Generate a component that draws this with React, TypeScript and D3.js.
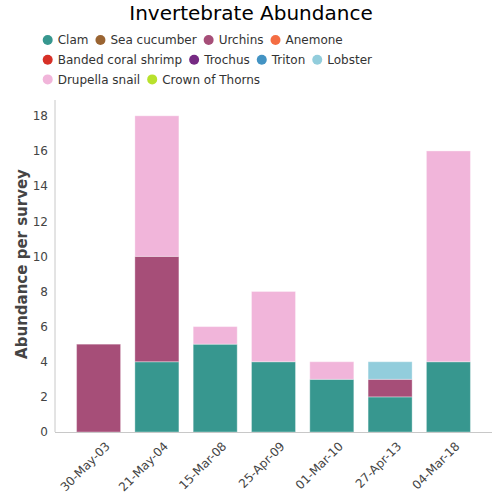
import React from "react";
import * as d3 from "d3";

const categories = ["30-May-03", "21-May-04", "15-Mar-08", "25-Apr-09", "01-Mar-10", "27-Apr-13", "04-Mar-18"];
const speciesNames = ["Clam", "Sea cucumber", "Urchins", "Anemone", "Banded coral shrimp", "Trochus", "Triton", "Lobster", "Drupella snail", "Crown of Thorns"];
const speciesColors = ["#37978f", "#9a6432", "#a64e78", "#f46d43", "#d73027", "#762a83", "#4393c3", "#92cddc", "#f1b5da", "#b8e12c"];
const clam = [0, 4, 5, 4, 3, 2, 4];
const seaCucumber = [0, 0, 0, 0, 0, 0, 0];
const urchins = [5, 6, 0, 0, 0, 1, 0];
const anemone = [0, 0, 0, 0, 0, 0, 0];
const bandedShrimp = [0, 0, 0, 0, 0, 0, 0];
const trochus = [0, 0, 0, 0, 0, 0, 0];
const triton = [0, 0, 0, 0, 0, 0, 0];
const lobster = [0, 0, 0, 0, 0, 1, 0];
const drupella = [0, 8, 1, 4, 1, 0, 12];
const crownOfThorns = [0, 0, 0, 0, 0, 0, 0];
const yTicks = [0, 2, 4, 6, 8, 10, 12, 14, 16, 18];

const seriesValues = [clam, seaCucumber, urchins, anemone, bandedShrimp, trochus, triton, lobster, drupella, crownOfThorns];

const FONT = "DejaVu Sans, sans-serif";

function measure(text: string, size: number) {
  const c = document.createElement("canvas").getContext("2d");
  if (!c) return text.length * size * 0.6;
  c.font = `${size}px "DejaVu Sans"`;
  return c.measureText(text).width;
}

export default function App() {
  const left = 55, right = 492, top = 100, bottom = 432;
  const x = d3.scaleBand<string>().domain(categories).range([left, right]).paddingInner(0.245).paddingOuter(0.37);
  const y = d3.scaleLinear().domain([0, 18.9]).range([bottom, top]);

  const rows = categories.map((c, i) => {
    const r: any = { cat: c };
    speciesNames.forEach((s, k) => (r[s] = seriesValues[k][i]));
    return r;
  });
  const stack = d3.stack<any>().keys(speciesNames)(rows);
  const color = d3.scaleOrdinal<string, string>().domain(speciesNames).range(speciesColors);

  // legend layout
  const legendItems: { name: string; cx: number; cy: number }[] = [];
  let lx = 47.7, row = 0;
  const maxX = 400;
  speciesNames.forEach((s) => {
    const w = measure(s, 12);
    if (lx + 10 + w > maxX && lx > 48) {
      row += 1;
      lx = 47.7;
    }
    legendItems.push({ name: s, cx: lx, cy: 40 + row * 19.7 });
    lx += 10 + w + 12;
  });

  return (
    <svg width={500} height={500} style={{ position: "absolute", left: 0, top: 0, fontFamily: FONT }}>
      <rect width={500} height={500} fill="#fff" />
      <text x={251} y={20} textAnchor="middle" fontSize={20} fill="#000">Invertebrate Abundance</text>
      {legendItems.map((d) => (
        <g key={d.name}>
          <circle cx={d.cx} cy={d.cy} r={5} fill={color(d.name)} />
          <text x={d.cx + 10} y={d.cy} dy="0.36em" fontSize={12} fill="#333">{d.name}</text>
        </g>
      ))}
      {stack.map((layer) => (
        <g key={layer.key} fill={color(layer.key)}>
          {layer.map((seg, i) =>
            seg[1] - seg[0] > 0 ? (
              <rect
                key={i}
                x={x(categories[i])}
                width={x.bandwidth()}
                y={y(seg[1])}
                height={y(seg[0]) - y(seg[1])}
                stroke="#ffffff"
                strokeOpacity={0.35}
                strokeWidth={1}
              />
            ) : null
          )}
        </g>
      ))}
      <line x1={left} x2={left} y1={top} y2={bottom} stroke="#c8c8c8" />
      <line x1={left} x2={right} y1={bottom + 0.5} y2={bottom + 0.5} stroke="#c8c8c8" />
      {yTicks.map((t) => (
        <text key={t} x={48} y={y(t)} dy="0.36em" textAnchor="end" fontSize={12} fill="#444">{t}</text>
      ))}
      {categories.map((c) => (
        <text
          key={c}
          transform={`translate(${(x(c) as number) + x.bandwidth() / 2 + 12},${bottom + 15}) rotate(-45)`}
          textAnchor="end"
          fontSize={12}
          fill="#444"
        >
          {c}
        </text>
      ))}
      <text transform={`translate(27,${(top + bottom) / 2 - 2}) rotate(-90)`} textAnchor="middle" fontSize={15} fontWeight="bold" fill="#444">
        Abundance per survey
      </text>
    </svg>
  );
}
